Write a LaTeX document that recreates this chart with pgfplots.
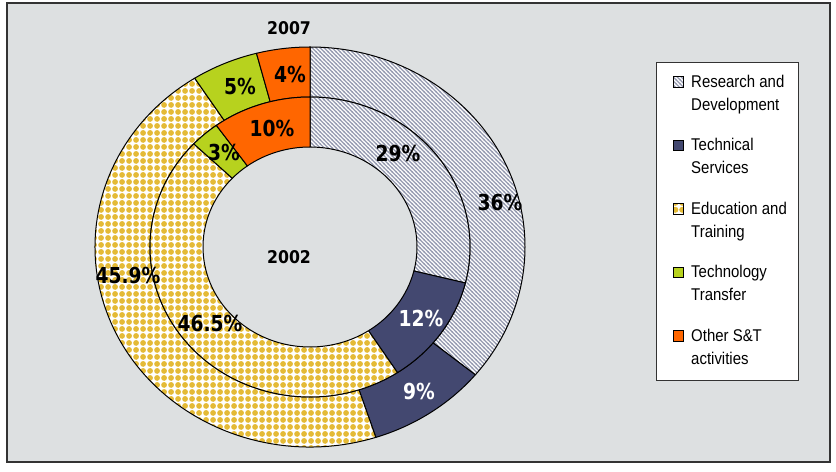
\documentclass[border=0pt]{standalone}
\usepackage{pgfplots}
\usepackage{pgfplotstable}
\pgfplotsset{compat=1.18}
\usetikzlibrary{patterns.meta}
\usepackage{fontspec}
\setmainfont{Liberation Sans}
\newfontfamily\legfont[FakeStretch=0.88]{Liberation Sans}
\newfontfamily\labfont[FakeStretch=0.85]{DejaVu Sans}
\newfontfamily\yearfont[FakeStretch=0.9]{DejaVu Sans}

\definecolor{bgcol}{HTML}{DDE0E1}
\definecolor{framecol}{HTML}{333333}
\definecolor{hatchcol}{HTML}{969BB1}
\definecolor{tsnavy}{HTML}{434870}
\definecolor{etyellow}{HTML}{E4BA36}
\definecolor{ttgreen}{HTML}{B7D21E}
\definecolor{otorange}{HTML}{FF6600}

\tikzdeclarepattern{
  name=rdhatch,
  type=uncolored,
  bounding box={(-1pt,-1pt) and (5pt,5pt)},
  tile size={(4pt,4pt)},
  code={\draw[line width=1.3pt] (-0.6pt,4.6pt) -- (4.6pt,-0.6pt);}
}
\tikzdeclarepattern{
  name=etdots,
  type=uncolored,
  bounding box={(0pt,0pt) and (7pt,7pt)},
  tile size={(7pt,7pt)},
  code={\fill (3.5pt,3.5pt) circle (3.3pt);}
}

\tikzset{
  seg0/.style={preaction={fill=white}, pattern=rdhatch, pattern color=hatchcol},
  seg1/.style={fill=tsnavy},
  seg2/.style={preaction={fill=white}, pattern=etdots, pattern color=etyellow},
  seg3/.style={fill=ttgreen},
  seg4/.style={fill=otorange},
}

% shares in percent: inner ring 2002, outer ring 2007
\pgfplotstableread{
cat    y2002  y2007
RD     29     36
TS     12     9
ET     46.5   45.9
TT     3      5
OT     10     4
}\piedata

\newcommand\computeangles[2]{%
  \pgfmathsetmacro\tot{0}%
  \pgfplotsforeachungrouped \i in {0,...,4}{%
    \pgfplotstablegetelem{\i}{#1}\of\piedata
    \pgfmathsetmacro\tot{\tot+\pgfplotsretval}}%
  \def\cum{0}%
  \pgfplotsforeachungrouped \i in {0,...,4}{%
    \pgfmathsetmacro\startang{90-3.6*(\cum/\tot)*100}%
    \pgfplotstablegetelem{\i}{#1}\of\piedata
    \pgfmathsetmacro\cum{\cum+\pgfplotsretval}%
    \pgfmathsetmacro\endang{90-3.6*(\cum/\tot)*100}%
    \expandafter\xdef\csname #2S\i\endcsname{\startang}%
    \expandafter\xdef\csname #2E\i\endcsname{\endang}}%
}

% ring segment: #1 #2 outer radii, #3 #4 inner radii, #5 #6 angles, #7 style
\newcommand\ringseg[7]{%
  \draw[#7, draw=black, line width=1pt, line join=round]
    (axis cs:{310+#1*cos(#5)},{217+#2*sin(#5)})
    arc[start angle=#5, end angle=#6, x radius=#1pt, y radius=#2pt]
    -- (axis cs:{310+#3*cos(#6)},{217+#4*sin(#6)})
    arc[start angle=#6, end angle=#5, x radius=#3pt, y radius=#4pt]
    -- cycle;}

\newcommand\pct{\labfont\bfseries\fontsize{22}{22}\selectfont}
\newcommand\twolines[2]{\vtop{\hbox{\strut #1}\hbox{#2\strut}}}
\newcommand\legbox[1]{\path (-4.5pt,0pt); \draw[#1, draw=black, line width=0.8pt] (0pt,0.3pt) rectangle (10.5pt,10.8pt);}

\begin{document}
\begin{tikzpicture}
\computeangles{y2002}{in}
\computeangles{y2007}{out}
\begin{axis}[
  x=1pt, y=1pt, xmin=7, xmax=830, ymin=2, ymax=461,
  scale only axis, clip=false,
  axis line style={draw=framecol, line width=1.5pt},
  ticks=none,
  axis background/.style={fill=bgcol},
  legend style={
    at={(0.7886,0.8715)}, anchor=north west,
    draw=black!80, line width=0.8pt, fill=white,
    inner xsep=12pt, inner ysep=8.9pt,
    row sep=17.5pt,
    cells={anchor=base west},
    nodes={inner sep=0pt, text depth=29.9pt, text height=16.1pt,
           font=\legfont\fontsize{17}{23}\selectfont},
    /tikz/every odd column/.append style={column sep=7pt},
  },
]
\path (axis cs:0,0) rectangle (axis cs:836,464);
\pgfplotsinvokeforeach{0,...,4}{
  \ringseg{215}{200}{160}{150}{\csname outS#1\endcsname}{\csname outE#1\endcsname}{seg#1}
  \ringseg{160}{150}{107}{100}{\csname inS#1\endcsname}{\csname inE#1\endcsname}{seg#1}
}
% data labels
\node[font=\pct, inner sep=0pt] at (axis cs:500,262) {36\%};
\node[font=\pct, inner sep=0pt, text=white] at (axis cs:419,73) {9\%};
\node[font=\pct, inner sep=0pt] at (axis cs:128,189) {45.9\%};
\node[font=\pct, inner sep=0pt] at (axis cs:240,378) {5\%};
\node[font=\pct, inner sep=0pt] at (axis cs:290,390) {4\%};
\node[font=\pct, inner sep=0pt] at (axis cs:398,311) {29\%};
\node[font=\pct, inner sep=0pt, text=white] at (axis cs:421,146) {12\%};
\node[font=\pct, inner sep=0pt] at (axis cs:210,141) {46.5\%};
\node[font=\pct, inner sep=0pt] at (axis cs:224,312) {3\%};
\node[font=\pct, inner sep=0pt] at (axis cs:272,336) {10\%};
\node[font=\yearfont\bfseries\fontsize{17.5}{17.5}\selectfont, inner sep=0pt] at (axis cs:289,436) {2007};
\node[font=\yearfont\bfseries\fontsize{17.5}{17.5}\selectfont, inner sep=0pt] at (axis cs:289,207) {2002};

\addlegendimage{legend image code/.code={\legbox{seg0}}}
\addlegendentry{\twolines{Research and}{Development}}
\addlegendimage{legend image code/.code={\legbox{seg1}}}
\addlegendentry{\twolines{Technical}{Services}}
\addlegendimage{legend image code/.code={\legbox{seg2}}}
\addlegendentry{\twolines{Education and}{Training}}
\addlegendimage{legend image code/.code={\legbox{seg3}}}
\addlegendentry{\twolines{Technology}{Transfer}}
\addlegendimage{legend image code/.code={\legbox{seg4}}}
\addlegendentry{\twolines{Other S\&T}{activities}}
\end{axis}
\end{tikzpicture}
\end{document}
